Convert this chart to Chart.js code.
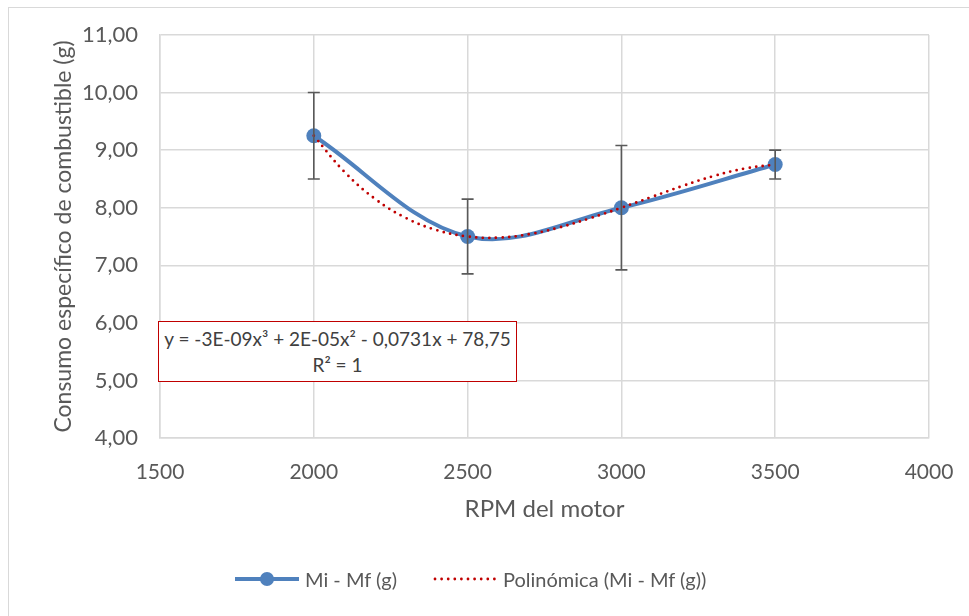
<!DOCTYPE html>
<html>
<head>
<meta charset="utf-8">
<script src="https://cdn.jsdelivr.net/npm/chart.js@4.4.1/dist/chart.umd.min.js"></script>
<style>
  html, body { margin: 0; padding: 0; background: #fff; }
  #wrap { position: relative; width: 969px; height: 616px; overflow: hidden; }
  #c { position: absolute; left: 0; top: 0; }
  .frame-top { position: absolute; left: 8px; top: 7px; width: 961px; height: 1px; background: #d9d9d9; }
  .frame-left { position: absolute; left: 8px; top: 7px; width: 1px; height: 609px; background: #d9d9d9; }
  #eq { position: absolute; left: 158px; top: 321px; width: 357px; height: 55px;
        border: 1.5px solid #c00000; background: #fff; box-sizing: content-box;
        font-family: Lato, "Open Sans", sans-serif; font-size: 19px; color: #404040;
        text-align: center; line-height: 26px; padding-top: 4px; }
  #legend { position: absolute; top: 566px; left: 0; width: 969px; height: 26px;
        font-family: Lato, "Open Sans", sans-serif; font-size: 20px; color: #595959; }
  .li { position: absolute; top: 0; display: flex; align-items: center; height: 26px; white-space: nowrap; }
  .li svg { margin-right: 6px; }
</style>
</head>
<body>
<div id="wrap">
  <canvas id="c" width="969" height="616"></canvas>
  <div class="frame-top"></div>
  <div class="frame-left"></div>
  <div id="eq">y = -3E-09x³ + 2E-05x² - 0,0731x + 78,75<br>R² = 1</div>
  <div id="legend">
    <div class="li" style="left:235px">
      <svg width="64" height="20"><line x1="0" y1="10" x2="64" y2="10" stroke="#4f81bd" stroke-width="4"/><circle cx="32" cy="10" r="7" fill="#4f81bd"/></svg>
      <span>Mi - Mf (g)</span>
    </div>
    <div class="li" style="left:433px">
      <svg width="64" height="20"><line x1="2" y1="10" x2="62" y2="10" stroke="#c00000" stroke-width="2.8" stroke-linecap="round" stroke-dasharray="0 6.6"/></svg>
      <span>Polinómica (Mi - Mf (g))</span>
    </div>
  </div>
</div>
<script>
// ---- data ----
const rpm = [2000, 2500, 3000, 3500];
const consumo = [9.25, 7.50, 8.00, 8.75];
const errPlus = [0.75, 0.65, 1.08, 0.25];
const errMinus = [0.75, 0.65, 1.08, 0.25];
// polynomial trendline, values
const trendRpm = [2000, 2100, 2200, 2300, 2400, 2500, 2600, 2700, 2800, 2900, 3000, 3100, 3200, 3300, 3400, 3500];
const trendVal = [9.25, 8.62, 8.15, 7.82, 7.61, 7.50, 7.48, 7.54, 7.66, 7.82, 8.00, 8.19, 8.38, 8.55, 8.68, 8.75];
const xTicks = [1500, 2000, 2500, 3000, 3500, 4000];
const yTicks = [4, 5, 6, 7, 8, 9, 10, 11];
const seriesLabel = 'Mi - Mf (g)';
const trendLabel = 'Polinómica (Mi - Mf (g))';
const xTitle = 'RPM del motor';
const yTitle = 'Consumo específico de combustible (g)';

const FONT = 'Lato, "Open Sans", sans-serif';
const TXT = '#595959';
const GRID = '#d9d9d9';

const errorBars = {
  id: 'errorBars',
  afterDatasetsDraw(chart) {
    const ctx = chart.ctx, xs = chart.scales.x, ys = chart.scales.y;
    ctx.save();
    ctx.strokeStyle = '#595959';
    ctx.lineWidth = 1.6;
    rpm.forEach((r, i) => {
      const x = xs.getPixelForValue(r);
      const yt = ys.getPixelForValue(consumo[i] + errPlus[i]);
      const yb = ys.getPixelForValue(consumo[i] - errMinus[i]);
      ctx.beginPath();
      ctx.moveTo(x, yt); ctx.lineTo(x, yb);
      ctx.moveTo(x - 6, yt); ctx.lineTo(x + 6, yt);
      ctx.moveTo(x - 6, yb); ctx.lineTo(x + 6, yb);
      ctx.stroke();
    });
    ctx.restore();
  }
};

new Chart(document.getElementById('c'), {
  type: 'scatter',
  data: {
    datasets: [
      {
        label: trendLabel,
        data: trendRpm.map((x, i) => ({ x, y: trendVal[i] })),
        showLine: true,
        borderColor: '#c00000',
        borderWidth: 2.8,
        borderDash: [0, 6.6],
        borderCapStyle: 'round',
        pointRadius: 0,
        tension: 0.4,
        order: 0
      },
      {
        label: seriesLabel,
        data: rpm.map((x, i) => ({ x, y: consumo[i] })),
        showLine: true,
        borderColor: '#4f81bd',
        backgroundColor: '#4f81bd',
        borderWidth: 4,
        pointRadius: 7.5,
        pointHoverRadius: 7.5,
        pointBorderWidth: 0,
        tension: 0.35,
        order: 1
      }
    ]
  },
  options: {
    responsive: false,
    animation: false,
    layout: { padding: { left: 50, right: 40, top: 35, bottom: 92 } },
    plugins: { legend: { display: false }, tooltip: { enabled: false } },
    scales: {
      x: {
        type: 'linear', min: 1500, max: 4000,
        afterBuildTicks: s => { s.ticks = xTicks.map(v => ({ value: v })); },
        afterFit: s => { s.height = 86; s.paddingLeft = 0; s.paddingRight = 0; },
        ticks: { color: TXT, font: { family: FONT, size: 21 }, padding: 22, callback: v => String(v) },
        grid: { color: GRID, lineWidth: 1.5, drawTicks: false },
        border: { color: GRID, width: 1.5 },
        title: { display: true, text: xTitle, color: TXT, font: { family: FONT, size: 24 }, padding: 0 }
      },
      y: {
        type: 'linear', min: 4, max: 11,
        afterBuildTicks: s => { s.ticks = yTicks.map(v => ({ value: v })); },
        afterFit: s => { s.width = 110; s.paddingTop = 0; s.paddingBottom = 0; },
        ticks: { color: TXT, font: { family: FONT, size: 22 }, padding: 22,
                 callback: v => v.toFixed(2).replace('.', ',') },
        grid: { color: GRID, lineWidth: 1.5, drawTicks: false },
        border: { color: GRID, width: 1.5 },
        title: { display: true, text: yTitle, color: TXT, font: { family: FONT, size: 23 }, padding: 0 }
      }
    }
  },
  plugins: [errorBars]
});
</script>
</body>
</html>
